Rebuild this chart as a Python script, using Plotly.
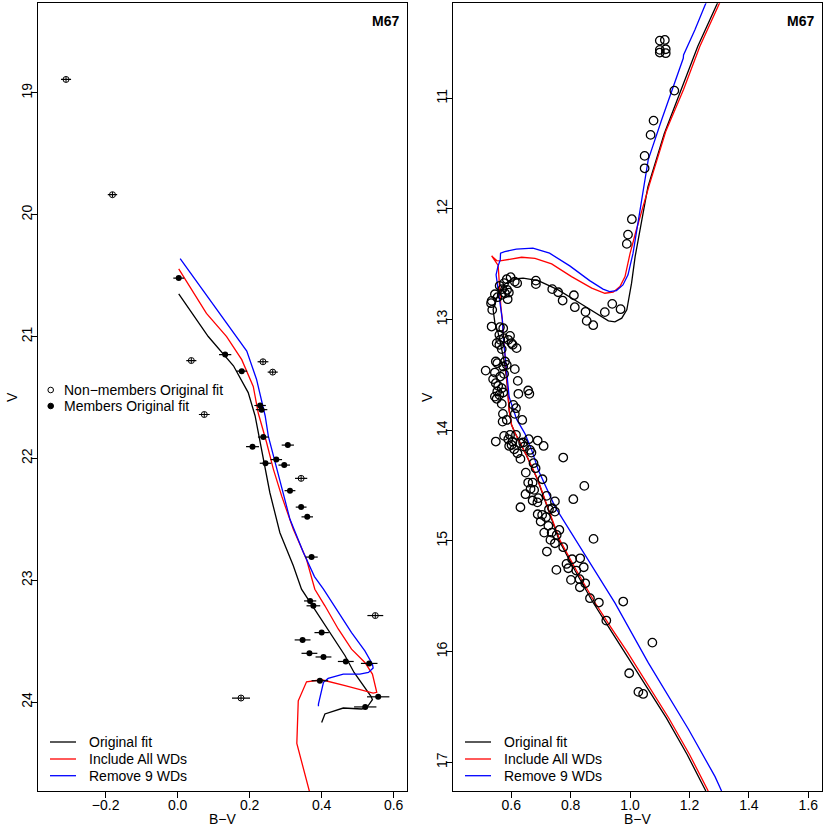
import plotly.graph_objects as go

# ---- left panel: white dwarfs (B-V, V, sigma B-V) ----
nonmem_bv = [-0.310, -0.181, 0.038, 0.237, 0.264, 0.074, 0.343, 0.549, 0.176]
nonmem_v = [18.89, 19.836, 21.197, 21.207, 21.292, 21.64, 22.164, 23.29, 23.967]
nonmem_err = [0.014, 0.013, 0.014, 0.015, 0.014, 0.015, 0.017, 0.022, 0.025]

mem_bv = [0.003, 0.132, 0.178, 0.229, 0.233, 0.238, 0.208, 0.306, 0.244, 0.274,
          0.296, 0.312, 0.343, 0.360, 0.372, 0.368, 0.377, 0.400, 0.347, 0.366,
          0.405, 0.467, 0.532, 0.395, 0.557, 0.521]
mem_v = [20.52, 21.148, 21.284, 21.566, 21.60, 21.825, 21.904, 21.891, 22.04, 22.01,
         22.055, 22.265, 22.40, 22.48, 22.81, 23.17, 23.21, 23.43, 23.49, 23.60,
         23.63, 23.667, 23.683, 23.825, 23.957, 24.04]
mem_err = [0.015, 0.017, 0.015, 0.016, 0.016, 0.015, 0.018, 0.017, 0.016, 0.016,
           0.016, 0.015, 0.015, 0.016, 0.017, 0.017, 0.019, 0.020, 0.022, 0.022,
           0.022, 0.022, 0.023, 0.023, 0.031, 0.031]

# white dwarf cooling / isochrone curves
wd_orig_bv = [0.003, 0.085, 0.155, 0.196, 0.215, 0.224, 0.238, 0.256, 0.284, 0.321,
              0.344, 0.405, 0.465, 0.490, 0.510, 0.524, 0.537, 0.541, 0.534, 0.525,
              0.511, 0.460, 0.409, 0.400]
wd_orig_v = [20.65, 21.0, 21.24, 21.46, 21.65, 21.79, 22.01, 22.28, 22.61, 22.88,
             23.074, 23.35, 23.62, 23.757, 23.838, 23.893, 23.953, 23.981, 24.008, 24.047,
             24.057, 24.049, 24.098, 24.167]
wd_all_bv = [0.003, 0.080, 0.136, 0.178, 0.210, 0.224, 0.247, 0.266, 0.289, 0.321,
             0.358, 0.381, 0.409, 0.446, 0.483, 0.520, 0.541, 0.550, 0.553, 0.543,
             0.511, 0.465, 0.400, 0.358, 0.335, 0.333, 0.331, 0.372]
wd_all_v = [20.445, 20.81, 21.0, 21.19, 21.41, 21.63, 21.87, 22.09, 22.31, 22.58,
            22.83, 23.074, 23.21, 23.40, 23.566, 23.675, 23.77, 23.866, 23.92, 23.926,
            23.899, 23.866, 23.817, 23.834, 23.99, 24.22, 24.34, 24.80]
wd_rm_bv = [0.007, 0.090, 0.155, 0.192, 0.219, 0.238, 0.243, 0.252, 0.275, 0.312,
            0.349, 0.380, 0.405, 0.442, 0.483, 0.520, 0.541, 0.543, 0.530, 0.506,
            0.460, 0.418, 0.405, 0.391, 0.391]
wd_rm_v = [20.36, 20.70, 20.96, 21.12, 21.35, 21.57, 21.65, 21.82, 22.09, 22.50,
           22.77, 22.97, 23.074, 23.238, 23.43, 23.58, 23.689, 23.72, 23.757, 23.770,
           23.770, 23.806, 23.838, 24.016, 24.035]

# ---- right panel: main sequence, turnoff and giants ----
ms_bv = [1.100, 1.117, 1.100, 1.120, 1.120, 1.100,
         1.149, 1.079, 1.069, 1.049, 1.049, 1.006, 0.993, 0.989,
         0.683, 0.683, 0.738, 0.758, 0.773, 0.811, 0.814, 0.850, 0.854, 0.876,
         0.915, 0.940, 0.968,
         0.585, 0.598, 0.612, 0.620, 0.576, 0.561, 0.570, 0.586, 0.579, 0.592,
         0.588, 0.568, 0.545, 0.554, 0.534, 0.532, 0.536,
         0.534, 0.573, 0.562, 0.560, 0.596, 0.563, 0.575, 0.590, 0.601, 0.618,
         0.605, 0.551, 0.560, 0.568,
         0.553, 0.548, 0.573, 0.579, 0.585, 0.514, 0.545, 0.563, 0.576, 0.612,
         0.539, 0.622, 0.548, 0.556, 0.568, 0.553, 0.545, 0.551, 0.560, 0.573,
         0.624, 0.657, 0.661, 0.568, 0.607, 0.616,
         0.572, 0.585, 0.571, 0.637, 0.612, 0.548, 0.576, 0.596, 0.590, 0.604,
         0.593, 0.601, 0.610, 0.616, 0.630, 0.640, 0.643, 0.621, 0.631, 0.659,
         0.663, 0.668, 0.689, 0.709, 0.775, 0.675, 0.682, 0.649, 0.705, 0.657,
         0.672, 0.665, 0.648, 0.677, 0.719, 0.672, 0.688, 0.747, 0.846, 0.809,
         0.631, 0.691, 0.727, 0.738, 0.747, 0.689, 0.704, 0.717, 0.699, 0.725,
         0.762, 0.711, 0.736, 0.753, 0.732, 0.747, 0.775, 0.877, 0.720, 0.786,
         0.805, 0.832, 0.792, 0.819, 0.844, 0.752, 0.801, 0.830, 0.849, 0.831,
         0.865, 0.895, 0.977, 0.920, 1.075, 0.997, 1.028, 1.044]
ms_v = [10.479, 10.473, 10.563, 10.557, 10.593, 10.587,
        10.931, 11.202, 11.331, 11.521, 11.633, 12.093, 12.232, 12.316,
        12.648, 12.680, 12.725, 12.753, 12.828, 12.780, 12.888, 12.930, 13.012, 13.051,
        12.933, 12.858, 12.906,
        12.635, 12.617, 12.657, 12.671, 12.671, 12.695, 12.725, 12.731, 12.762, 12.756,
        12.816, 12.777, 12.771, 12.798, 12.831, 12.852, 12.912,
        13.063, 13.078, 13.069, 13.138, 13.147, 13.183, 13.168, 13.183, 13.213, 13.258,
        13.228, 13.213, 13.228, 13.267,
        13.394, 13.379, 13.424, 13.379, 13.409, 13.461, 13.479, 13.515, 13.491, 13.448,
        13.538, 13.554, 13.575, 13.599, 13.620, 13.650, 13.696, 13.716, 13.680, 13.659,
        13.671, 13.641, 13.671, 13.762, 13.771, 13.801,
        13.852, 13.907, 13.922, 13.907, 13.852, 14.102, 14.051, 14.042, 14.081, 14.102,
        14.142, 14.133, 14.172, 14.042, 14.117, 14.111, 14.148, 14.208, 14.259, 14.081,
        14.178, 14.202, 14.093, 14.142, 14.247, 14.298, 14.343, 14.383, 14.443, 14.473,
        14.473, 14.530, 14.578, 14.539, 14.593, 14.635, 14.652, 14.643, 14.503, 14.623,
        14.696, 14.614, 14.714, 14.705, 14.735, 14.759, 14.765, 14.786, 14.825, 14.864,
        14.901, 14.925, 14.925, 14.946, 14.991, 15.021, 15.057, 14.982, 15.096, 15.208,
        15.166, 15.157, 15.247, 15.268, 15.238, 15.262, 15.352, 15.346, 15.383, 15.419,
        15.518, 15.557, 15.548, 15.720, 15.919, 16.196, 16.364, 16.383]

iso_orig_bv = [1.255, 1.192, 1.122, 1.052, 0.982, 0.928, 0.874, 0.815, 0.762, 0.728,
               0.689, 0.650, 0.630, 0.612, 0.601, 0.593, 0.587, 0.578, 0.568, 0.556,
               0.545, 0.539, 0.551, 0.568, 0.601, 0.640, 0.691, 0.758, 0.837, 0.893,
               0.927, 0.949, 0.972, 0.989, 1.005, 1.017, 1.060, 1.115, 1.170, 1.228, 1.301]
iso_orig_v = [17.26, 16.93, 16.60, 16.30, 16.00, 15.78, 15.55, 15.27, 15.00, 14.75,
              14.45, 14.22, 14.12, 14.02, 13.95, 13.82, 13.60, 13.40, 13.27, 13.12,
              13.03, 12.91, 12.807, 12.702, 12.635, 12.626, 12.648, 12.732, 12.861, 12.958,
              13.012, 13.021, 12.987, 12.912, 12.671, 12.431, 11.80, 11.32, 10.93, 10.53, 10.10]
iso_all_bv = [1.263, 1.200, 1.130, 1.060, 0.990, 0.935, 0.880, 0.820, 0.765, 0.730,
              0.690, 0.650, 0.630, 0.612, 0.601, 0.593, 0.587, 0.579, 0.570, 0.565,
              0.560, 0.556, 0.534, 0.551, 0.562, 0.590, 0.635, 0.680, 0.736, 0.803,
              0.871, 0.915, 0.943, 0.966, 0.983, 1.000, 1.020, 1.065, 1.120, 1.180,
              1.235, 1.308]
iso_all_v = [17.26, 16.93, 16.60, 16.30, 16.00, 15.78, 15.55, 15.27, 15.00, 14.75,
             14.45, 14.22, 14.12, 14.02, 13.95, 13.82, 13.60, 13.30, 13.00, 12.88,
             12.64, 12.51, 12.425, 12.467, 12.470, 12.455, 12.437, 12.446, 12.497, 12.612,
             12.716, 12.762, 12.753, 12.702, 12.612, 12.401, 12.20, 11.78, 11.30, 10.92,
             10.53, 10.10]
iso_rm_bv = [1.308, 1.286, 1.196, 1.061, 0.949, 0.837, 0.747, 0.691, 0.669, 0.646,
             0.618, 0.593, 0.579, 0.574, 0.570, 0.561, 0.552, 0.549, 0.555, 0.563,
             0.564, 0.578, 0.617, 0.673, 0.729, 0.797, 0.864, 0.909, 0.931, 0.954,
             0.976, 0.993, 1.010, 1.032, 1.061, 1.106, 1.151, 1.179, 1.180, 1.218,
             1.255, 1.275]
iso_rm_v = [17.26, 17.13, 16.70, 16.10, 15.56, 15.08, 14.69, 14.36, 14.18, 14.03,
            13.90, 13.70, 13.36, 13.18, 13.00, 12.822, 12.671, 12.596, 12.521, 12.461,
            12.400, 12.386, 12.364, 12.355, 12.400, 12.515, 12.648, 12.725, 12.747, 12.738,
            12.687, 12.596, 12.400, 12.04, 11.557, 11.196, 10.864, 10.639, 10.608, 10.383,
            10.142, 10.0]

fit_names = ['Original fit', 'Include All WDs', 'Remove 9 WDs']
fit_colors = ['black', '#ff0000', '#0000ff']

FONT = 'Liberation Sans, Arial, Helvetica, sans-serif'
W = 830


def px(x):
    return x / W


def py(y):
    return 1 - y / W


fig = go.Figure()

# left panel curves
for bv, v, c in zip([wd_orig_bv, wd_all_bv, wd_rm_bv],
                    [wd_orig_v, wd_all_v, wd_rm_v], fit_colors):
    fig.add_trace(go.Scatter(x=bv, y=v, mode='lines', line=dict(color=c, width=1.3),
                             xaxis='x', yaxis='y', showlegend=False))

# left panel points with error bars
fig.add_trace(go.Scatter(
    x=nonmem_bv, y=nonmem_v, mode='markers', xaxis='x', yaxis='y',
    marker=dict(symbol='circle-open', size=6, color='black', line=dict(width=1)),
    error_x=dict(type='data', array=nonmem_err, color='black', thickness=1.2, width=0),
    error_y=dict(type='constant', value=0.022, color='black', thickness=1, width=0),
    showlegend=False))
fig.add_trace(go.Scatter(
    x=mem_bv, y=mem_v, mode='markers', xaxis='x', yaxis='y',
    marker=dict(symbol='circle', size=6, color='black'),
    error_x=dict(type='data', array=mem_err, color='black', thickness=1.2, width=0),
    showlegend=False))

# right panel curves
for bv, v, c in zip([iso_orig_bv, iso_all_bv, iso_rm_bv],
                    [iso_orig_v, iso_all_v, iso_rm_v], fit_colors):
    fig.add_trace(go.Scatter(x=bv, y=v, mode='lines', line=dict(color=c, width=1.3),
                             xaxis='x2', yaxis='y2', showlegend=False))

fig.add_trace(go.Scatter(
    x=ms_bv, y=ms_v, mode='markers', xaxis='x2', yaxis='y2',
    marker=dict(symbol='circle-open', size=8.5, color='black', line=dict(width=1.3)),
    showlegend=False))

axis_style = dict(showline=True, mirror=True, linecolor='black', linewidth=1,
                  ticks='outside', ticklen=6, tickcolor='black', showgrid=False,
                  zeroline=False, automargin=False,
                  tickfont=dict(size=14, color='black'))

ydom = [py(791), py(3.3)]
fig.update_layout(
    width=W, height=W, margin=dict(l=0, r=0, t=0, b=0, pad=0, autoexpand=False),
    plot_bgcolor='white', paper_bgcolor='white',
    font=dict(family=FONT, size=14, color='black'),
    showlegend=False,
    xaxis=dict(domain=[px(38.3), px(407)], range=[-0.387, 0.637], anchor='y',
               tickvals=[-0.2, 0.0, 0.2, 0.4, 0.6], tickformat='.1f',
               ticklabelstandoff=-5, **axis_style),
    yaxis=dict(domain=ydom, range=[24.73, 18.265], anchor='x',
               tickvals=[19, 20, 21, 22, 23, 24], tickangle=-90,
               ticklabelstandoff=-6, **axis_style),
    xaxis2=dict(domain=[px(453.3), px(822.3)], range=[0.405, 1.647], anchor='y2',
                tickvals=[0.6, 0.8, 1.0, 1.2, 1.4, 1.6], tickformat='.1f',
                ticklabelstandoff=-5, **axis_style),
    yaxis2=dict(domain=ydom, range=[17.26, 10.142], anchor='x2',
                tickvals=[11, 12, 13, 14, 15, 16, 17], tickangle=-90,
                ticklabelstandoff=-6, **axis_style),
)

annotations = []
shapes = []


def label(x, y, text, xanchor='center', angle=0):
    return dict(x=px(x), y=py(y), xref='paper', yref='paper', text=text,
                xanchor=xanchor, yanchor='middle', textangle=angle,
                showarrow=False, font=dict(size=14))


for off in [0, 415]:
    # axis titles and cluster label
    annotations.append(label(222.6 + off, 818.5, 'B\u2212V'))
    annotations.append(label(12 + off, 397, 'V', angle=-90))
    annotations.append(label(400.5 + off, 20.7, '<b>M67</b>', xanchor='right'))
    # line legend
    for name, c, yy in zip(fit_names, fit_colors, [742, 759, 775.7]):
        shapes.append(dict(type='line', xref='paper', yref='paper',
                           x0=px(50 + off), x1=px(76 + off), y0=py(yy), y1=py(yy),
                           line=dict(color=c, width=1.3)))
        annotations.append(label(87 + off, yy, name, xanchor='left'))

# point legend in left panel
r = 2.8
for yy, fill, name in [(390, 'white', 'Non\u2212members Original fit'),
                       (406, 'black', 'Members Original fit')]:
    shapes.append(dict(type='circle', xref='paper', yref='paper',
                       x0=px(50.7 - r), x1=px(50.7 + r), y0=py(yy + r), y1=py(yy - r),
                       fillcolor=fill, line=dict(color='black', width=1)))
    annotations.append(label(62, yy, name, xanchor='left'))

fig.update_layout(annotations=annotations, shapes=shapes)

fig.write_html("out.html", config={'displayModeBar': False},
               post_script="document.body.style.margin='0';")
